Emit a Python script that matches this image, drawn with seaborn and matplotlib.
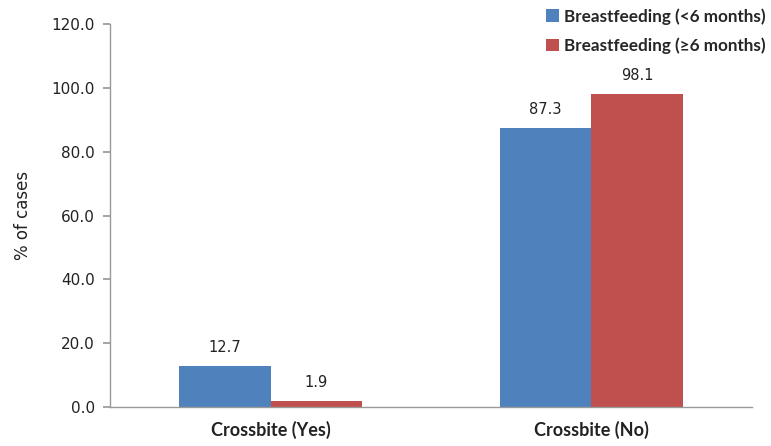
import matplotlib
matplotlib.use("Agg")
import matplotlib.pyplot as plt
import seaborn as sns
import pandas as pd

categories = ["Crossbite (Yes)", "Crossbite (No)"]
series_names = ["Breastfeeding (<6 months)", "Breastfeeding (\u22656 months)"]
lt6 = [12.7, 87.3]
ge6 = [1.9, 98.1]
yticks = [0, 20, 40, 60, 80, 100, 120]

df = pd.DataFrame({
    "cat": categories * 2,
    "series": [series_names[0]] * 2 + [series_names[1]] * 2,
    "val": lt6 + ge6,
})

sns.set_theme(style="white")
plt.rcParams['font.family'] = ['DejaVu Sans']

fig = plt.figure(figsize=(7.71, 4.46), dpi=100)
ax = fig.add_axes([0.1427, 0.0874, 0.8326, 0.8586])

palette = {series_names[0]: "#4F81BD", series_names[1]: "#C0504D"}
sns.barplot(data=df, x="cat", y="val", hue="series", palette=palette,
            width=0.57, saturation=1, ax=ax, legend=True, linewidth=0)

for cont in ax.containers:
    ax.bar_label(cont, fmt="%.1f", padding=8, fontsize=10.5, color="#222222")

ax.set_ylim(0, 120)
ax.set_yticks(yticks)
ax.set_yticklabels([f"{v:.1f}" for v in yticks], fontsize=11, color="#222222")
ax.set_xlim(-0.5, 1.5)
ax.set_xticks([-0.5, 0.5, 1.5], minor=False)
ax.set_xticklabels([])
ax.set_xticks([0, 1], minor=True)
ax.set_xticklabels(categories, minor=True, fontsize=13, fontweight="bold", family="Lato", color="#222222")
ax.tick_params(axis="x", which="major", length=6, color="#999999", direction="out")
ax.tick_params(axis="x", which="minor", length=0, pad=10)
ax.tick_params(axis="y", length=5, color="#999999", direction="out", left=True, pad=6)
ax.set_xlabel("")
ax.set_ylabel("% of cases", fontsize=12, color="#222222", labelpad=14)

for s in ["top", "right"]:
    ax.spines[s].set_visible(False)
for s in ["left", "bottom"]:
    ax.spines[s].set_color("#999999")
    ax.spines[s].set_linewidth(1)

leg = ax.legend(loc="upper right", bbox_to_anchor=(1.045, 1.082), frameon=False,
                handlelength=0.75, handleheight=0.75, handletextpad=0.3,
                labelspacing=0.75, prop={"family": "Lato", "weight": "bold", "size": 12.3})

fig.savefig("out.png", dpi=100)
